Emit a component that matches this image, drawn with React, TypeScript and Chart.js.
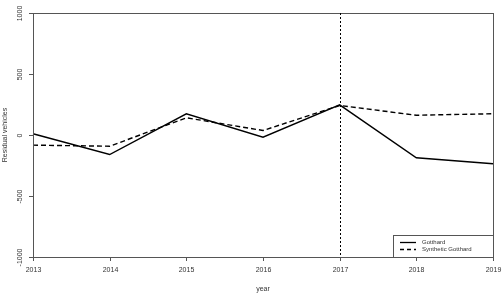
import React, { useEffect, useRef } from "react";
import { Chart, registerables } from "chart.js";

Chart.register(...registerables);

const years = ["2013", "2014", "2015", "2016", "2017", "2018", "2019"];
const gotthard = [10, -160, 174, -18, 247, -187, -236];
const syntheticGotthard = [-83, -92, 141, 37, 242, 162, 174];
const yTicks = [-1000, -500, 0, 500, 1000];
const treatmentYear = "2017";
const legendLabels = ["Gotthard", "Synthetic Gotthard"];
const yTitle = "Residual vehicles";
const xTitle = "year";

const FONT = "'Liberation Sans', Arial, sans-serif";
const AXIS = "#555";
const TEXT = "#333";

const overlay = {
  id: "overlay",
  afterDraw(chart: any) {
    const { ctx, chartArea: a, scales } = chart;
    const x = scales.x;
    const y = scales.y;
    ctx.save();
    // box
    ctx.strokeStyle = AXIS;
    ctx.lineWidth = 1;
    ctx.strokeRect(Math.round(a.left) + 0.5, Math.round(a.top) + 0.5, Math.round(a.right - a.left), Math.round(a.bottom - a.top));
    // y ticks and rotated labels
    ctx.fillStyle = TEXT;
    ctx.font = `7px ${FONT}`;
    ctx.textAlign = "center";
    ctx.textBaseline = "middle";
    yTicks.forEach((v) => {
      const py = Math.round(y.getPixelForValue(v)) + 0.5;
      ctx.beginPath();
      ctx.moveTo(a.left - 4, py);
      ctx.lineTo(a.left, py);
      ctx.stroke();
      ctx.save();
      ctx.translate(20, py);
      ctx.rotate(-Math.PI / 2);
      ctx.fillText(String(v), 0, 0);
      ctx.restore();
    });
    // y title
    ctx.save();
    ctx.translate(5.5, (a.top + a.bottom) / 2);
    ctx.rotate(-Math.PI / 2);
    ctx.fillText(yTitle, 0, 0);
    ctx.restore();
    // x ticks and labels
    ctx.textBaseline = "middle";
    years.forEach((yr, i) => {
      const px = Math.round(x.getPixelForValue(i)) + 0.5;
      ctx.beginPath();
      ctx.moveTo(px, a.bottom);
      ctx.lineTo(px, a.bottom + 4);
      ctx.stroke();
      ctx.fillText(yr, px, 270.5);
    });
    ctx.fillText(xTitle, (a.left + a.right) / 2, 289);
    // dotted vertical line
    const vx = Math.round(x.getPixelForValue(years.indexOf(treatmentYear))) + 0.5;
    ctx.strokeStyle = "#000";
    ctx.setLineDash([2, 2]);
    ctx.beginPath();
    ctx.moveTo(vx, a.top);
    ctx.lineTo(vx, a.bottom);
    ctx.stroke();
    ctx.setLineDash([]);
    // legend
    const lx = 393.5;
    const ly = 235.5;
    ctx.fillStyle = "#fff";
    ctx.fillRect(lx, ly, a.right - lx, a.bottom - ly);
    ctx.strokeStyle = AXIS;
    ctx.strokeRect(lx, ly, Math.round(a.right) + 0.5 - lx, Math.round(a.bottom) + 0.5 - ly);
    ctx.font = `6px ${FONT}`;
    ctx.textAlign = "left";
    ctx.fillStyle = TEXT;
    legendLabels.forEach((lab, i) => {
      const ry = 242.5 + i * 7;
      ctx.strokeStyle = "#000";
      ctx.lineWidth = 1.3;
      ctx.setLineDash(i === 0 ? [] : [4, 3]);
      ctx.beginPath();
      ctx.moveTo(400, ry);
      ctx.lineTo(416, ry);
      ctx.stroke();
      ctx.setLineDash([]);
      ctx.fillText(lab, 422, ry);
    });
    ctx.restore();
  },
};

export default function App() {
  const ref = useRef<HTMLCanvasElement>(null);
  useEffect(() => {
    document.body.style.margin = "0";
    const chart = new Chart(ref.current!, {
      type: "line",
      data: {
        labels: years,
        datasets: [
          {
            label: legendLabels[0],
            data: gotthard,
            borderColor: "#000",
            borderWidth: 1.4,
            pointRadius: 0,
            tension: 0,
          },
          {
            label: legendLabels[1],
            data: syntheticGotthard,
            borderColor: "#000",
            borderWidth: 1.4,
            borderDash: [5, 3],
            pointRadius: 0,
            tension: 0,
          },
        ],
      },
      options: {
        responsive: false,
        animation: false,
        events: [],
        layout: { padding: { left: 33, right: 11, top: 13, bottom: 40 } },
        plugins: { legend: { display: false }, tooltip: { enabled: false } },
        scales: {
          x: {
            type: "category",
            offset: false,
            display: false,
          },
          y: {
            min: -1000,
            max: 1000,
            display: false,
          },
        },
      },
      plugins: [overlay],
    });
    return () => chart.destroy();
  }, []);
  return (
    <div style={{ width: 504, height: 297, background: "#fff" }}>
      <canvas ref={ref} width={504} height={297} />
    </div>
  );
}
